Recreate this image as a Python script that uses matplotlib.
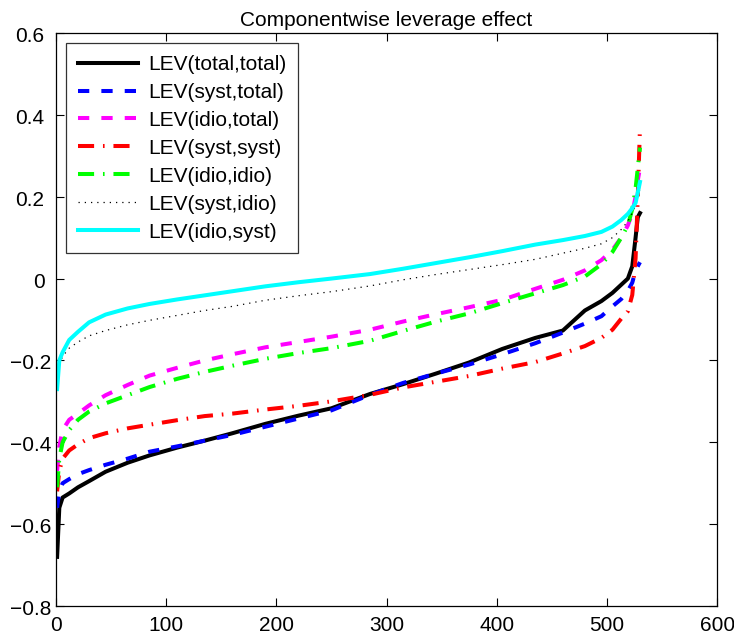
import numpy as np
import matplotlib; matplotlib.use('Agg'); import matplotlib.pyplot as plt
from matplotlib.transforms import ScaledTranslation

plt.rcParams['font.family'] = ['Liberation Sans', 'DejaVu Sans']

# sorted leverage estimates, read off at these ranks
rank = [1, 3, 6, 12, 20, 30, 45, 65, 85, 110, 135, 160, 190, 220, 250, 285, 315,
        345, 375, 405, 435, 460, 480, 495, 505, 513, 519, 523, 526, 528, 530]

lev_tot_tot = [-0.68, -0.56, -0.535, -0.525, -0.51, -0.495, -0.472, -0.45, -0.432, -0.413, -0.396,
               -0.378, -0.355, -0.335, -0.317, -0.282, -0.258, -0.232, -0.205, -0.172, -0.145,
               -0.127, -0.078, -0.055, -0.035, -0.015, 0.0, 0.03, 0.10, 0.15, 0.16]
lev_syst_tot = [-0.56, -0.52, -0.50, -0.49, -0.478, -0.468, -0.455, -0.44, -0.423, -0.41, -0.396,
                -0.382, -0.362, -0.342, -0.322, -0.284, -0.255, -0.232, -0.21, -0.185, -0.158,
                -0.132, -0.11, -0.092, -0.068, -0.05, -0.03, -0.01, 0.02, 0.03, 0.04]
lev_idio_tot = [-0.47, -0.41, -0.37, -0.345, -0.33, -0.31, -0.285, -0.26, -0.237, -0.218, -0.20,
                -0.185, -0.168, -0.155, -0.142, -0.125, -0.105, -0.087, -0.07, -0.052, -0.025,
                -0.003, 0.02, 0.045, 0.07, 0.10, 0.13, 0.16, 0.20, 0.24, 0.27]
lev_syst_syst = [-0.52, -0.47, -0.44, -0.42, -0.405, -0.39, -0.378, -0.366, -0.357, -0.346, -0.336,
                 -0.33, -0.32, -0.311, -0.30, -0.284, -0.266, -0.252, -0.238, -0.22, -0.204,
                 -0.183, -0.165, -0.145, -0.125, -0.098, -0.08, -0.04, 0.05, 0.20, 0.37]
lev_idio_idio = [-0.51, -0.44, -0.40, -0.37, -0.345, -0.325, -0.305, -0.285, -0.265, -0.245, -0.228,
                 -0.213, -0.196, -0.182, -0.17, -0.152, -0.128, -0.105, -0.085, -0.06, -0.036,
                 -0.016, 0.005, 0.035, 0.065, 0.10, 0.13, 0.17, 0.22, 0.27, 0.32]
lev_syst_idio = [-0.24, -0.21, -0.19, -0.17, -0.155, -0.14, -0.127, -0.113, -0.102, -0.09, -0.078,
                 -0.068, -0.053, -0.042, -0.032, -0.018, -0.003, 0.01, 0.022, 0.034, 0.047,
                 0.062, 0.074, 0.085, 0.10, 0.12, 0.14, 0.16, 0.18, 0.20, 0.22]
lev_idio_syst = [-0.27, -0.20, -0.18, -0.15, -0.13, -0.107, -0.088, -0.073, -0.062, -0.051, -0.041,
                 -0.031, -0.019, -0.009, 0.0, 0.011, 0.024, 0.038, 0.052, 0.067, 0.083,
                 0.094, 0.104, 0.114, 0.127, 0.143, 0.158, 0.172, 0.185, 0.21, 0.236]

labels = ['LEV(total,total)', 'LEV(syst,total)', 'LEV(idio,total)', 'LEV(syst,syst)',
          'LEV(idio,idio)', 'LEV(syst,idio)', 'LEV(idio,syst)']
ytick_vals = [-0.8, -0.6, -0.4, -0.2, 0, 0.2, 0.4, 0.6]
ytick_txt = ['\u22120.8', '\u22120.6', '\u22120.4', '\u22120.2', '0', '0.2', '0.4', '0.6']

fig = plt.figure(figsize=(7.34, 6.37), dpi=100)
ax = fig.add_axes([0.0763, 0.0487, 0.9007, 0.8995])

lw = 2.9
ax.plot(rank, lev_tot_tot, color='k', lw=lw, label=labels[0])
ax.plot(rank, lev_syst_tot, color='#0000ff', lw=lw, ls=(0, (2.8, 3)), label=labels[1])
ax.plot(rank, lev_idio_tot, color='#ff00ff', lw=lw, ls=(0, (2.8, 3)), label=labels[2])
ax.plot(rank, lev_syst_syst, color='#ff0000', lw=lw, ls=(0, (4, 2.2, 0.4, 2.2)), label=labels[3])
ax.plot(rank, lev_idio_idio, color='#00ff00', lw=lw, ls=(0, (4, 2.2, 0.4, 2.2)), label=labels[4])
ax.plot(rank, lev_syst_idio, color='k', lw=0.9, ls=(0, (1, 4)), label=labels[5])
ax.plot(rank, lev_idio_syst, color='#00ffff', lw=lw, label=labels[6])

ax.set_xlim(0, 600); ax.set_ylim(-0.8, 0.6)
ax.set_xticks(np.arange(0, 601, 100))
ax.set_yticks(ytick_vals)
ax.set_yticklabels([])
ax.tick_params(direction='in', top=True, right=True, length=6, labelsize=15)
ax.tick_params(axis='x', pad=7)
for s in ax.spines.values(): s.set_linewidth(0.9)
# y labels drawn by hand: matlab puts the negative ones closer to the axis
for v, txt in zip(ytick_vals, ytick_txt):
    dx = 0.045 if v < 0 else 0.115
    ax.text(0, v, txt, fontsize=15, ha='right', va='center',
            transform=ax.get_yaxis_transform() + ScaledTranslation(-dx, -0.035, fig.dpi_scale_trans))
ax.set_title('Componentwise leverage effect', fontsize=15, pad=5)

leg = ax.legend(loc='upper left', fontsize=15, handlelength=2.9, frameon=True, fancybox=False,
                edgecolor='k', borderaxespad=0.5, labelspacing=0.43, handletextpad=0.5,
                borderpad=0.55)
leg.get_frame().set_linewidth(0.9)

fig.savefig('out.png', dpi=100)
